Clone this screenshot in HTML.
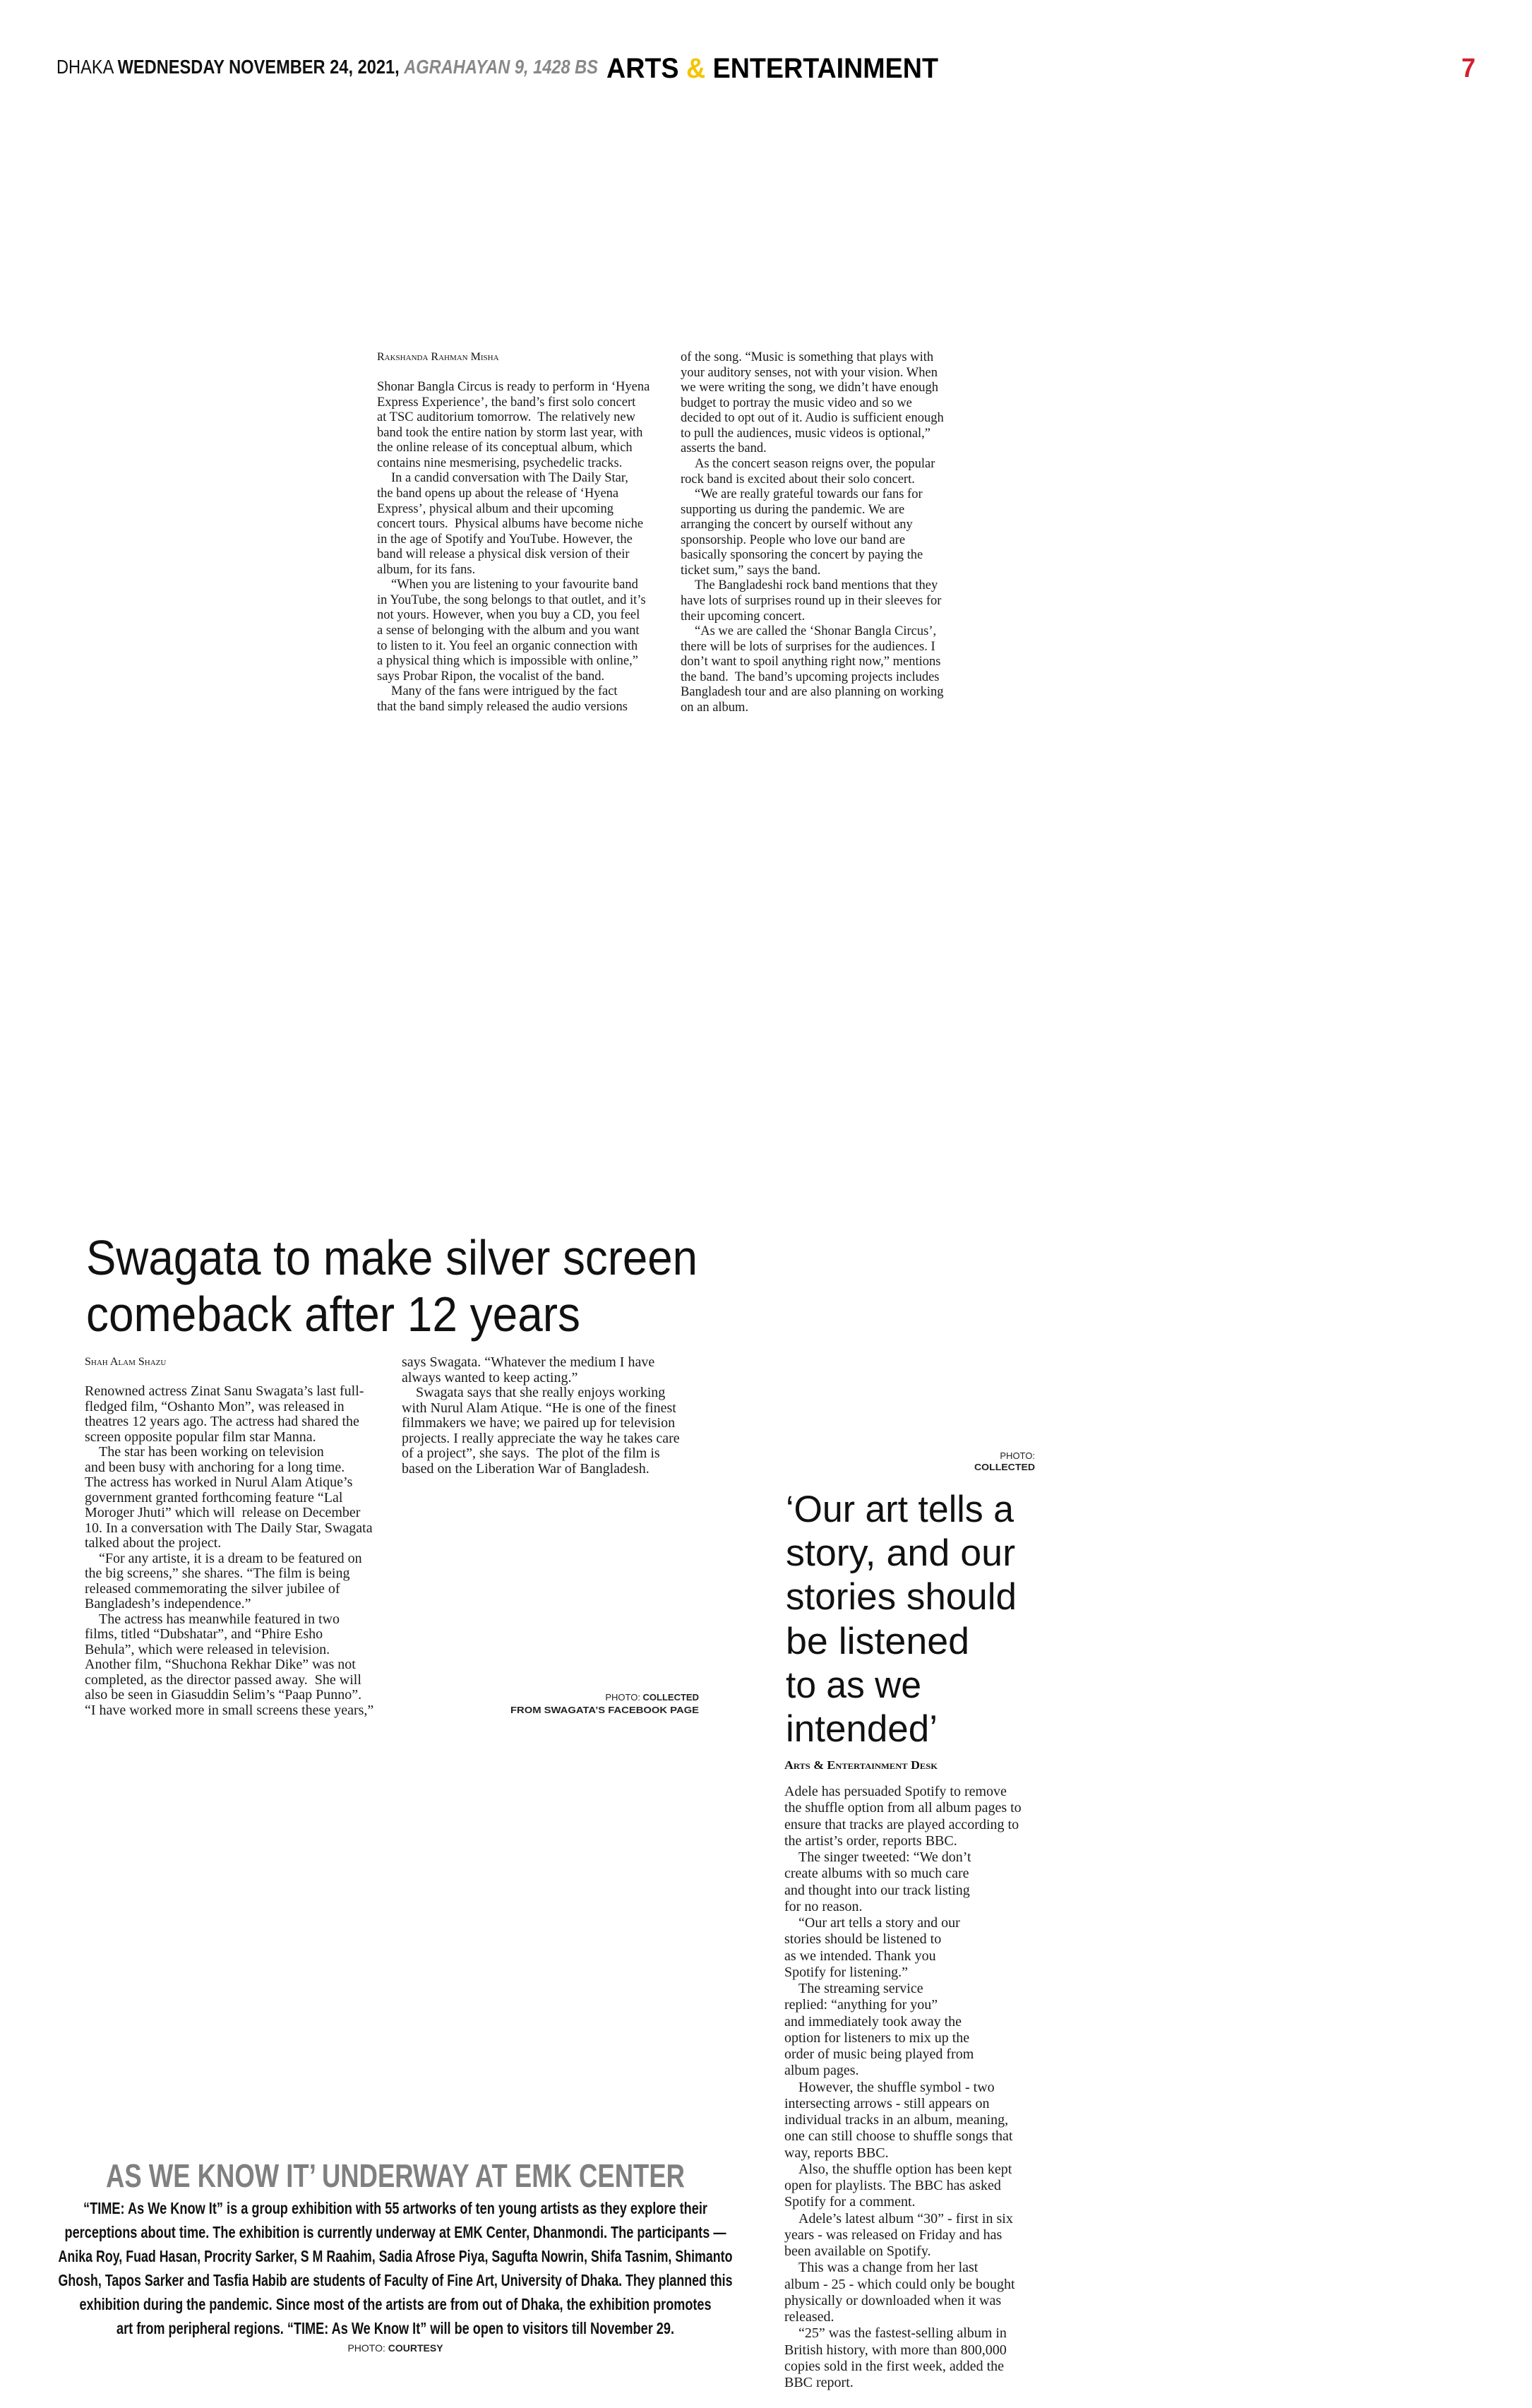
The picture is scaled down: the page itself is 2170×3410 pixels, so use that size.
<!DOCTYPE html>
<html><head><meta charset="utf-8">
<style>
html,body{margin:0;padding:0;background:#fff;}
body{width:2170px;height:3410px;position:relative;overflow:hidden;}
.svg{position:absolute;left:0;top:0;}
.col{position:absolute;white-space:nowrap;color:#1a1a1a;font-family:"Liberation Serif",serif;}
.a1{font-size:18.5px;line-height:21.57px;}
.sw{font-size:20px;line-height:21.5px;}
.ad{font-size:20px;line-height:23.25px;}
.ind{padding-left:20px;}
.by{position:absolute;font-family:"Liberation Serif",serif;font-variant:small-caps;font-size:16px;color:#111;white-space:nowrap;}
</style></head><body>

<svg class="svg" width="2170" height="3410" xmlns="http://www.w3.org/2000/svg">
 <text x="80" y="104" font-family="Liberation Sans, sans-serif" font-size="28" textLength="767" lengthAdjust="spacingAndGlyphs" fill="#111">DHAKA <tspan font-weight="bold">WEDNESDAY NOVEMBER 24, 2021,</tspan> <tspan font-weight="bold" font-style="italic" fill="#888">AGRAHAYAN 9, 1428 BS</tspan></text>
 <text x="859" y="110" font-family="Liberation Sans, sans-serif" font-size="40" font-weight="bold" textLength="470" lengthAdjust="spacingAndGlyphs" fill="#000">ARTS <tspan fill="#f5c400">&amp;</tspan> ENTERTAINMENT</text>
 <text x="2070" y="109" font-family="Liberation Sans, sans-serif" font-size="38" font-weight="bold" fill="#d3202f" textLength="20" lengthAdjust="spacingAndGlyphs">7</text>

 <text x="122" y="1805" font-family="Liberation Sans, sans-serif" font-size="70" textLength="866" lengthAdjust="spacingAndGlyphs" fill="#111">Swagata to make silver screen</text>
 <text x="122" y="1885" font-family="Liberation Sans, sans-serif" font-size="70" textLength="700" lengthAdjust="spacingAndGlyphs" fill="#111">comeback after 12 years</text>

 <text x="990" y="2408" text-anchor="end" font-family="Liberation Sans, sans-serif" font-size="13" fill="#222">PHOTO: <tspan font-weight="bold">COLLECTED</tspan></text>
 <text x="990" y="2426" text-anchor="end" font-family="Liberation Sans, sans-serif" font-size="13" font-weight="bold" textLength="267" lengthAdjust="spacingAndGlyphs" fill="#222">FROM SWAGATA’S FACEBOOK PAGE</text>

 <text x="1466" y="2066" text-anchor="end" font-family="Liberation Sans, sans-serif" font-size="13" fill="#222">PHOTO:</text>
 <text x="1380" y="2082" font-family="Liberation Sans, sans-serif" font-size="13" font-weight="bold" textLength="86" lengthAdjust="spacingAndGlyphs" fill="#222">COLLECTED</text>

 <g font-family="Liberation Sans, sans-serif" font-size="53" fill="#111">
  <text x="1113" y="2155" textLength="323" lengthAdjust="spacingAndGlyphs">‘Our art tells a</text>
  <text x="1113" y="2217" textLength="325" lengthAdjust="spacingAndGlyphs">story, and our</text>
  <text x="1113" y="2279" textLength="327" lengthAdjust="spacingAndGlyphs">stories should</text>
  <text x="1113" y="2342" textLength="260" lengthAdjust="spacingAndGlyphs">be listened</text>
  <text x="1113" y="2404" textLength="192" lengthAdjust="spacingAndGlyphs">to as we</text>
  <text x="1113" y="2466" textLength="215" lengthAdjust="spacingAndGlyphs">intended’</text>
 </g>
 <text x="1111" y="2505" font-family="Liberation Serif, serif" font-size="17" font-weight="bold" style="font-variant:small-caps" textLength="217" lengthAdjust="spacingAndGlyphs" fill="#111">Arts &amp; Entertainment Desk</text>

 <text x="150" y="3097" font-family="Liberation Sans, sans-serif" font-size="46" font-weight="bold" fill="#808080" textLength="820" lengthAdjust="spacingAndGlyphs">AS WE KNOW IT’ UNDERWAY AT EMK CENTER</text>
 <g font-family="Liberation Sans, sans-serif" font-size="23" font-weight="bold" fill="#111" text-anchor="middle">
  <text x="560" y="3135" textLength="884" lengthAdjust="spacingAndGlyphs">“TIME: As We Know It” is a group exhibition with 55 artworks of ten young artists as they explore their</text>
  <text x="560" y="3169" textLength="937" lengthAdjust="spacingAndGlyphs">perceptions about time. The exhibition is currently underway at EMK Center, Dhanmondi. The participants —</text>
  <text x="560" y="3203" textLength="955" lengthAdjust="spacingAndGlyphs">Anika Roy, Fuad Hasan, Procrity Sarker, S M Raahim, Sadia Afrose Piya, Sagufta Nowrin, Shifa Tasnim, Shimanto</text>
  <text x="560" y="3237" textLength="955" lengthAdjust="spacingAndGlyphs">Ghosh, Tapos Sarker and Tasfia Habib are students of Faculty of Fine Art, University of Dhaka. They planned this</text>
  <text x="560" y="3271" textLength="895" lengthAdjust="spacingAndGlyphs">exhibition during the pandemic. Since most of the artists are from out of Dhaka, the exhibition promotes</text>
  <text x="560" y="3305" textLength="790" lengthAdjust="spacingAndGlyphs">art from peripheral regions.  “TIME: As We Know It” will be open to visitors till November 29.</text>
 </g>
 <text x="560" y="3330" text-anchor="middle" font-family="Liberation Sans, sans-serif" font-size="14" fill="#222">PHOTO: <tspan font-weight="bold">COURTESY</tspan></text>
</svg>

<div class="by" style="left:534px;top:497px;">Rakshanda Rahman Misha</div>
<div class="col a1" style="left:534px;top:538px;">
Shonar Bangla Circus is ready to perform in ‘Hyena<br>
Express Experience’, the band’s first solo concert<br>
at TSC auditorium tomorrow.&nbsp; The relatively new<br>
band took the entire nation by storm last year, with<br>
the online release of its conceptual album, which<br>
contains nine mesmerising, psychedelic tracks.<br>
<span class="ind">In a candid conversation with The Daily Star,</span><br>
the band opens up about the release of ‘Hyena<br>
Express’, physical album and their upcoming<br>
concert tours.&nbsp; Physical albums have become niche<br>
in the age of Spotify and YouTube. However, the<br>
band will release a physical disk version of their<br>
album, for its fans.<br>
<span class="ind">“When you are listening to your favourite band</span><br>
in YouTube, the song belongs to that outlet, and it’s<br>
not yours. However, when you buy a CD, you feel<br>
a sense of belonging with the album and you want<br>
to listen to it. You feel an organic connection with<br>
a physical thing which is impossible with online,”<br>
says Probar Ripon, the vocalist of the band.<br>
<span class="ind">Many of the fans were intrigued by the fact</span><br>
that the band simply released the audio versions
</div>
<div class="col a1" style="left:964px;top:496px;">
of the song. “Music is something that plays with<br>
your auditory senses, not with your vision. When<br>
we were writing the song, we didn’t have enough<br>
budget to portray the music video and so we<br>
decided to opt out of it. Audio is sufficient enough<br>
to pull the audiences, music videos is optional,”<br>
asserts the band.<br>
<span class="ind">As the concert season reigns over, the popular</span><br>
rock band is excited about their solo concert.<br>
<span class="ind">“We are really grateful towards our fans for</span><br>
supporting us during the pandemic. We are<br>
arranging the concert by ourself without any<br>
sponsorship. People who love our band are<br>
basically sponsoring the concert by paying the<br>
ticket sum,” says the band.<br>
<span class="ind">The Bangladeshi rock band mentions that they</span><br>
have lots of surprises round up in their sleeves for<br>
their upcoming concert.<br>
<span class="ind">“As we are called the ‘Shonar Bangla Circus’,</span><br>
there will be lots of surprises for the audiences. I<br>
don’t want to spoil anything right now,” mentions<br>
the band.&nbsp; The band’s upcoming projects includes<br>
Bangladesh tour and are also planning on working<br>
on an album.
</div>

<div class="by" style="left:120px;top:1920px;">Shah Alam Shazu</div>
<div class="col sw" style="left:120px;top:1960px;">
Renowned actress Zinat Sanu Swagata’s last full-<br>
fledged film, “Oshanto Mon”, was released in<br>
theatres 12 years ago. The actress had shared the<br>
screen opposite popular film star Manna.<br>
<span class="ind">The star has been working on television</span><br>
and been busy with anchoring for a long time.<br>
The actress has worked in Nurul Alam Atique’s<br>
government granted forthcoming feature “Lal<br>
Moroger Jhuti” which will&nbsp; release on December<br>
10. In a conversation with The Daily Star, Swagata<br>
talked about the project.<br>
<span class="ind">“For any artiste, it is a dream to be featured on</span><br>
the big screens,” she shares. “The film is being<br>
released commemorating the silver jubilee of<br>
Bangladesh’s independence.”<br>
<span class="ind">The actress has meanwhile featured in two</span><br>
films, titled “Dubshatar”, and “Phire Esho<br>
Behula”, which were released in television.<br>
Another film, “Shuchona Rekhar Dike” was not<br>
completed, as the director passed away.&nbsp; She will<br>
also be seen in Giasuddin Selim’s “Paap Punno”.<br>
“I have worked more in small screens these years,”
</div>
<div class="col sw" style="left:569px;top:1919px;">
says Swagata. “Whatever the medium I have<br>
always wanted to keep acting.”<br>
<span class="ind">Swagata says that she really enjoys working</span><br>
with Nurul Alam Atique. “He is one of the finest<br>
filmmakers we have; we paired up for television<br>
projects. I really appreciate the way he takes care<br>
of a project”, she says.&nbsp; The plot of the film is<br>
based on the Liberation War of Bangladesh.
</div>

<div class="col ad" style="left:1111px;top:2526px;">
Adele has persuaded Spotify to remove<br>
the shuffle option from all album pages to<br>
ensure that tracks are played according to<br>
the artist’s order, reports BBC.<br>
<span class="ind">The singer tweeted: “We don’t</span><br>
create albums with so much care<br>
and thought into our track listing<br>
for no reason.<br>
<span class="ind">“Our art tells a story and our</span><br>
stories should be listened to<br>
as we intended. Thank you<br>
Spotify for listening.”<br>
<span class="ind">The streaming service</span><br>
replied: “anything for you”<br>
and immediately took away the<br>
option for listeners to mix up the<br>
order of music being played from<br>
album pages.<br>
<span class="ind">However, the shuffle symbol - two</span><br>
intersecting arrows - still appears on<br>
individual tracks in an album, meaning,<br>
one can still choose to shuffle songs that<br>
way, reports BBC.<br>
<span class="ind">Also, the shuffle option has been kept</span><br>
open for playlists. The BBC has asked<br>
Spotify for a comment.<br>
<span class="ind">Adele’s latest album “30” - first in six</span><br>
years - was released on Friday and has<br>
been available on Spotify.<br>
<span class="ind">This was a change from her last</span><br>
album - 25 - which could only be bought<br>
physically or downloaded when it was<br>
released.<br>
<span class="ind">“25” was the fastest-selling album in</span><br>
British history, with more than 800,000<br>
copies sold in the first week, added the<br>
BBC report.
</div>

</body></html>
